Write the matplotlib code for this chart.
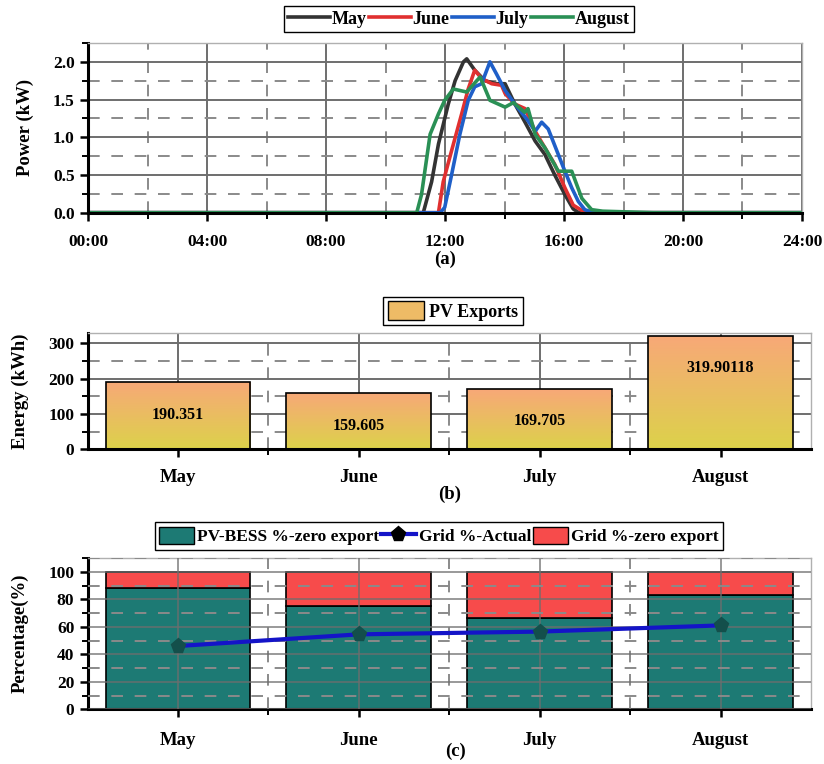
import numpy as np
import matplotlib
matplotlib.use('Agg')
import matplotlib.pyplot as plt
from matplotlib.colors import LinearSegmentedColormap
from matplotlib.patches import Patch
from matplotlib.lines import Line2D
from matplotlib.ticker import MultipleLocator, FixedLocator

plt.rcParams['font.family'] = ['Liberation Serif', 'DejaVu Serif']
plt.rcParams['font.weight'] = 'bold'
plt.rcParams['axes.labelweight'] = 'bold'

# (a) daily power profiles, hour of day vs kW
may_t = [0, 11.0, 11.27, 11.55, 11.78, 12.11, 12.34, 12.62, 12.73, 13.0, 13.34, 13.73, 14.02, 14.35,
         14.69, 15.03, 15.36, 15.69, 16.03, 16.31, 16.5, 24]
may_p = [0, 0, 0, 0.41, 0.91, 1.44, 1.75, 2.0, 2.04, 1.89, 1.75, 1.71, 1.71, 1.44,
         1.20, 0.95, 0.77, 0.50, 0.24, 0.05, 0, 0]
june_t = [0, 11.78, 11.94, 12.22, 12.56, 12.78, 13.0, 13.23, 13.57, 13.9, 14.02, 14.35, 14.69,
          15.03, 15.36, 15.69, 16.03, 16.31, 16.6, 16.9, 24]
june_p = [0, 0, 0.41, 0.82, 1.31, 1.64, 1.89, 1.78, 1.71, 1.69, 1.58, 1.44, 1.38,
          1.08, 0.86, 0.64, 0.33, 0.10, 0.03, 0, 0]
july_t = [0, 11.84, 11.99, 12.22, 12.5, 12.78, 13.0, 13.23, 13.51, 13.73, 14.02, 14.35, 14.79,
          15.03, 15.25, 15.47, 15.81, 16.03, 16.26, 16.48, 16.7, 17.0, 24]
july_p = [0, 0, 0.07, 0.50, 1.04, 1.49, 1.67, 1.71, 2.0, 1.84, 1.62, 1.44, 1.22,
          1.08, 1.20, 1.11, 0.77, 0.55, 0.33, 0.15, 0.04, 0, 0]
aug_t = [0, 11.05, 11.21, 11.5, 11.78, 11.99, 12.28, 12.73, 13.18, 13.51, 13.68, 14.02, 14.3,
         14.68, 14.79, 15.03, 15.36, 15.81, 16.26, 16.6, 16.93, 17.3, 19.0, 24]
aug_p = [0, 0, 0.24, 1.04, 1.31, 1.49, 1.64, 1.60, 1.80, 1.49, 1.46, 1.40, 1.46,
         1.33, 1.38, 1.04, 0.86, 0.55, 0.55, 0.19, 0.04, 0.02, 0, 0]

# (b) PV exports per month
months = ['May', 'June', 'July', 'August']
pv_exports = [190.351, 159.605, 169.705, 319.90118]
pv_labels = ['190.351', '159.605', '169.705', '319.90118']

# (c) percentages
pv_bess = [88, 75, 66.5, 83]
grid_zero = [12, 25, 33.5, 17]
grid_actual = [46, 54.5, 56.5, 61]

fig = plt.figure(figsize=(8.24, 7.64), dpi=100)


def style_axes(ax):
    ax.set_axisbelow(True)
    ax.grid(which='major', color='#6e6e6e', lw=1.4, ls='-')
    ax.grid(which='minor', color='#8a8a8a', lw=1.4, ls=(0, (6, 6)))
    for s in ['left', 'bottom']:
        ax.spines[s].set_linewidth(2.2)
        ax.spines[s].set_color('black')
    for s in ['top', 'right']:
        ax.spines[s].set_linewidth(1.0)
        ax.spines[s].set_color('#b0b0b0')
    ax.tick_params(which='major', direction='out', length=6, width=1.8, labelsize=12.5)
    ax.tick_params(which='minor', direction='out', length=4, width=1.4)
    ax.tick_params(axis='x', which='both', top=False)
    ax.tick_params(axis='y', which='both', right=False)


# ---- (a)
ax1 = fig.add_axes([0.1068, 0.7216, 0.8665, 0.2221])
l1, = ax1.plot(may_t, may_p, color='#333333', lw=2.6)
l2, = ax1.plot(june_t, june_p, color='#e03030', lw=2.6)
l3, = ax1.plot(july_t, july_p, color='#1f5fc8', lw=2.6)
l4, = ax1.plot(aug_t, aug_p, color='#2a9055', lw=2.6)
ax1.set_xlim(0, 24)
ax1.set_ylim(0, 2.25)
ax1.set_xticks(range(0, 25, 4))
ax1.set_xticklabels(['%02d:00' % h for h in range(0, 25, 4)])
ax1.xaxis.set_minor_locator(MultipleLocator(2))
ax1.yaxis.set_major_locator(MultipleLocator(0.5))
ax1.yaxis.set_minor_locator(MultipleLocator(0.25))
ax1.yaxis.set_major_formatter(matplotlib.ticker.FormatStrFormatter('%.1f'))
style_axes(ax1)
ax1.tick_params(axis='x', which='major', pad=9)
ax1.set_ylabel('Power (kW)', fontsize=13.5, labelpad=14)
fig.legend([l1, l2, l3, l4], months, loc='center', bbox_to_anchor=(459 / 824, 1 - 19 / 764),
           ncol=4, fontsize=13, handlelength=2.3, handletextpad=0.1, columnspacing=0.15,
           borderpad=0.25, fancybox=False, edgecolor='black', framealpha=1)
fig.text(445 / 824, 1 - 259 / 764, '(a)', ha='center', va='center', fontsize=13.5)

# ---- (b)
ax2 = fig.add_axes([0.1062, 0.4119, 0.878, 0.1522])
x = np.arange(len(months))
bars = ax2.bar(x, pv_exports, width=0.8, color='none', edgecolor='black', lw=1.2, zorder=3)
cmap = LinearSegmentedColormap.from_list('pv', ['#dcd24a', '#f8a878'])
grad = np.linspace(0, 1, 256).reshape(-1, 1)
for b in bars:
    im = ax2.imshow(grad, extent=[b.get_x(), b.get_x() + b.get_width(), 0, b.get_height()],
                    origin='lower', aspect='auto', cmap=cmap, zorder=2)
    im.set_clip_path(b)
label_pos = [97, 66, 81, 230]
for xi, lab, yp in zip(x, pv_labels, label_pos):
    ax2.text(xi, yp, lab, ha='center', va='center', fontsize=11.5, zorder=4)
ax2.set_xlim(-0.5, 3.5)
ax2.set_ylim(0, 329)
ax2.set_xticks(x)
ax2.set_xticklabels(months)
ax2.xaxis.set_minor_locator(FixedLocator([0.5, 1.5, 2.5]))
ax2.yaxis.set_major_locator(MultipleLocator(100))
ax2.yaxis.set_minor_locator(MultipleLocator(50))
style_axes(ax2)
ax2.tick_params(axis='x', which='major', pad=8, labelsize=13.5)
ax2.set_ylabel('Energy (kWh)', fontsize=13.5, labelpad=14)
ax2.legend([Patch(facecolor='#eebb66', edgecolor='black')], ['PV Exports'], loc='center',
           bbox_to_anchor=(453 / 824, 1 - 311 / 764), bbox_transform=fig.transFigure,
           fontsize=13, handlelength=2.0, handleheight=1.2, handletextpad=0.3, borderpad=0.25,
           fancybox=False, edgecolor='black', framealpha=1)
fig.text(450 / 824, 1 - 494 / 764, '(b)', ha='center', va='center', fontsize=13.5)

# ---- (c)
ax3 = fig.add_axes([0.1062, 0.0716, 0.878, 0.198])
ax3.bar(x, pv_bess, width=0.8, color='#1d7a74', edgecolor='black', lw=1.2, zorder=1)
ax3.bar(x, grid_zero, bottom=pv_bess, width=0.8, color='#f74b4b', edgecolor='black', lw=1.2, zorder=1)
ax3.plot(x, grid_actual, color='#1414c8', lw=3, marker='p', ms=11, mfc='#134f4b', mec='#134f4b', zorder=4)
ax3.set_xlim(-0.5, 3.5)
ax3.set_ylim(0, 110)
ax3.set_xticks(x)
ax3.set_xticklabels(months)
ax3.xaxis.set_minor_locator(FixedLocator([0.5, 1.5, 2.5]))
ax3.yaxis.set_major_locator(MultipleLocator(20))
ax3.yaxis.set_minor_locator(MultipleLocator(10))
style_axes(ax3)
ax3.set_axisbelow(False)
for gl in ax3.get_xgridlines() + ax3.get_ygridlines():
    gl.set_zorder(2)
    gl.set_alpha(0.7)
ax3.tick_params(axis='x', which='major', pad=10, labelsize=13.5)
ax3.set_ylabel('Percentage(%)', fontsize=13.5, labelpad=14)
h_c = [Patch(facecolor='#1d7a74', edgecolor='black'),
       Line2D([], [], color='#1414c8', lw=3, marker='p', ms=11, mfc='black', mec='black'),
       Patch(facecolor='#f74b4b', edgecolor='black')]
ax3.legend(h_c, ['PV-BESS %-zero export', 'Grid %-Actual', 'Grid %-zero export'], loc='center',
           bbox_to_anchor=(439 / 824, 1 - 536 / 764), bbox_transform=fig.transFigure, ncol=3,
           fontsize=12.5, handlelength=2.0, handleheight=1.2, handletextpad=0.2, columnspacing=0.1,
           borderpad=0.25, fancybox=False, edgecolor='black', framealpha=1)
fig.text(455 / 824, 1 - 751 / 764, '(c)', ha='center', va='center', fontsize=13.5)

fig.savefig('out.png', dpi=100)
